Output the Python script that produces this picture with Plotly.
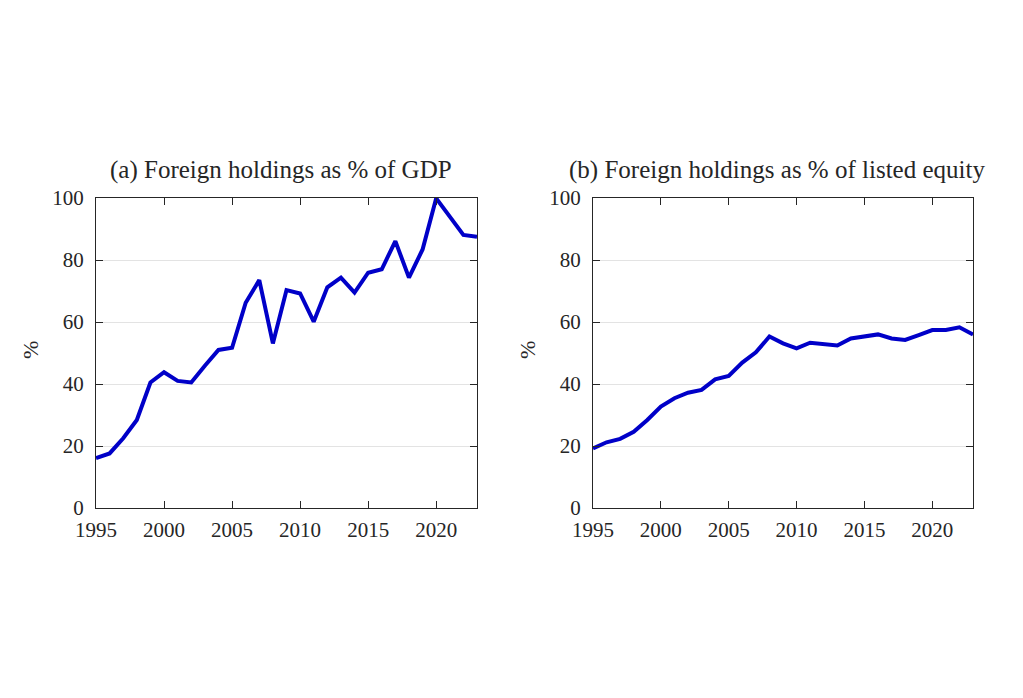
import plotly.graph_objects as go

years = list(range(1995, 2024))
gdp_share = [16.1, 17.6, 22.5, 28.4, 40.5, 43.8, 41.0, 40.5, 45.9, 51.0,
             51.7, 66.2, 73.5, 53.1, 70.3, 69.2, 60.1, 71.2, 74.3, 69.5,
             75.9, 77.0, 86.1, 74.3, 83.4, 99.9, 94.0, 88.1, 87.5]
equity_share = [19.2, 21.2, 22.3, 24.6, 28.4, 32.7, 35.4, 37.2, 38.1, 41.5,
                42.6, 46.9, 50.2, 55.3, 53.1, 51.5, 53.3, 52.8, 52.4, 54.7,
                55.3, 56.0, 54.7, 54.2, 55.8, 57.4, 57.4, 58.3, 56.0]
titles = ["(a) Foreign holdings as % of GDP", "(b) Foreign holdings as % of listed equity"]
x_ticks = [1995, 2000, 2005, 2010, 2015, 2020]
y_ticks = [0, 20, 40, 60, 80, 100]

FONT = "Liberation Serif"
LINE = "rgb(0,0,200)"
AX = "#262626"
W, H = 1023, 698

fig = go.Figure()
fig.add_trace(go.Scatter(x=years, y=gdp_share, mode="lines", line=dict(color=LINE, width=4),
                         xaxis="x", yaxis="y", showlegend=False))
fig.add_trace(go.Scatter(x=years, y=equity_share, mode="lines", line=dict(color=LINE, width=4),
                         xaxis="x2", yaxis="y2", showlegend=False))

ydom = [1 - 508 / H, 1 - 198 / H]
xdoms = [[96 / W, 477 / W], [593 / W, 973 / W]]

common_x = dict(range=[1995, 2023], tickvals=x_ticks, ticks="inside", ticklen=7, tickcolor=AX,
                showline=True, linecolor=AX, linewidth=1, mirror="allticks", showgrid=False,
                zeroline=False, automargin=False, ticklabelstandoff=3,
                tickfont=dict(family=FONT, size=21, color="#262626"))
common_y = dict(range=[0, 100], tickvals=y_ticks, ticks="inside", ticklen=7, tickcolor=AX,
                showline=True, linecolor=AX, linewidth=1, mirror="allticks", showgrid=True,
                gridcolor="#e3e3e3", gridwidth=1, zeroline=False, automargin=False,
                ticklabelstandoff=7,
                tickfont=dict(family=FONT, size=21, color="#262626"))

fig.update_layout(
    width=W, height=H, margin=dict(l=0, r=0, t=0, b=0),
    paper_bgcolor="white", plot_bgcolor="white",
    xaxis=dict(domain=xdoms[0], anchor="y", **common_x),
    yaxis=dict(domain=ydom, anchor="x", **common_y),
    xaxis2=dict(domain=xdoms[1], anchor="y2", **common_x),
    yaxis2=dict(domain=ydom, anchor="x2", **common_y),
)

for i, t in enumerate(titles):
    fig.add_annotation(text=t, xref="paper", yref="paper",
                       x=(xdoms[i][0] + xdoms[i][1]) / 2 - 6 / W, y=1 - 170 / H,
                       xanchor="center", yanchor="middle", showarrow=False,
                       font=dict(family=FONT, size=25, color="#262626"))

for xpx in [30, 527]:
    fig.add_annotation(text="%", xref="paper", yref="paper",
                       x=xpx / W, y=1 - 350 / H, textangle=-90,
                       xanchor="center", yanchor="middle", showarrow=False,
                       font=dict(family=FONT, size=22, color="#262626"))

fig.write_html("out.html")
